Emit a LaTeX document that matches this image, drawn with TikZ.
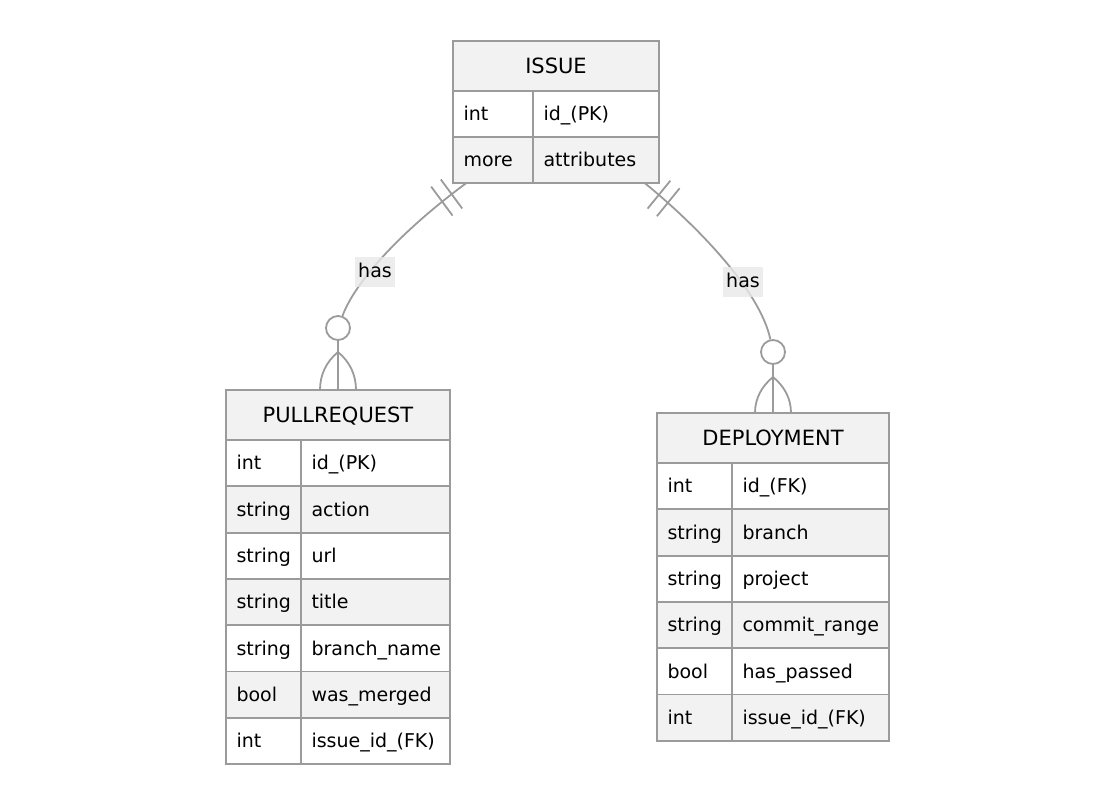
\documentclass[tikz,border=0pt]{standalone}
\usepackage{fontspec}
\usetikzlibrary{calc}
\newfontfamily\erfont{DejaVu Sans}
\newcommand{\cellfont}{\erfont\fontsize{19}{23}\selectfont}
\newcommand{\titlefont}{\erfont\fontsize{21}{25}\selectfont}
\definecolor{linec}{HTML}{9B9B9B}
\definecolor{rowc}{HTML}{F2F2F2}
\definecolor{labc}{HTML}{E8E8E8}
\tikzset{
  ent/.style={draw=linec, line width=1.8pt, anchor=north west, inner sep=0pt, outer sep=0pt},
  enttitle/.style={ent, fill=rowc, minimum height=50pt, font=\titlefont, text height=19pt, text depth=4pt},
  cell/.style={ent, minimum height=46.3pt, inner xsep=10.5pt, align=left, font=\cellfont, text height=17.5pt, text depth=4pt},
  even/.style={fill=rowc},
  rel/.style={draw=linec, line width=1.8pt},
  zero/.style={circle, draw=linec, line width=1.8pt, fill=white, minimum size=24pt, inner sep=0pt},
  rellabel/.style={fill=labc, fill opacity=0.8, text opacity=1, font=\cellfont, inner xsep=3pt, minimum height=30pt, text height=15pt, text depth=4pt}
}

\begin{document}
\begin{tikzpicture}[x=1pt,y=-1pt]

\useasboundingbox (0,0) rectangle (1116,806);

% ISSUE
\node[enttitle, minimum width=206pt] (issue) at (453,41) {ISSUE};
\node[cell, text width=59pt] (is1a) at (453,91) {int};
\node[cell, text width=105pt] (is1b) at (533,91) {id\_(PK)};
\node[cell, even, text width=59pt] (is2a) at (453,137) {more};
\node[cell, even, text width=105pt] (is2b) at (533,137) {attributes};

% PULLREQUEST
\node[enttitle, minimum width=224pt] (pr) at (226,390) {PULLREQUEST};
\node[cell, text width=54pt] (pr1a) at (226,440) {int};
\node[cell, text width=128pt] (pr1b) at (301,440) {id\_(PK)};
\node[cell, even, text width=54pt] (pr2a) at (226,486.3) {string};
\node[cell, even, text width=128pt] (pr2b) at (301,486.3) {action};
\node[cell, text width=54pt] (pr3a) at (226,532.6) {string};
\node[cell, text width=128pt] (pr3b) at (301,532.6) {url};
\node[cell, even, text width=54pt] (pr4a) at (226,578.9) {string};
\node[cell, even, text width=128pt] (pr4b) at (301,578.9) {title};
\node[cell, text width=54pt] (pr5a) at (226,625.2) {string};
\node[cell, text width=128pt] (pr5b) at (301,625.2) {branch\_name};
\node[cell, even, text width=54pt] (pr6a) at (226,671.5) {bool};
\node[cell, even, text width=128pt] (pr6b) at (301,671.5) {was\_merged};
\node[cell, text width=54pt] (pr7a) at (226,717.8) {int};
\node[cell, text width=128pt] (pr7b) at (301,717.8) {issue\_id\_(FK)};

% DEPLOYMENT
\node[enttitle, minimum width=232pt] (dep) at (657,413) {DEPLOYMENT};
\node[cell, text width=54pt] (dp1a) at (657,463) {int};
\node[cell, text width=136pt] (dp1b) at (732,463) {id\_(FK)};
\node[cell, even, text width=54pt] (dp2a) at (657,509.3) {string};
\node[cell, even, text width=136pt] (dp2b) at (732,509.3) {branch};
\node[cell, text width=54pt] (dp3a) at (657,555.6) {string};
\node[cell, text width=136pt] (dp3b) at (732,555.6) {project};
\node[cell, even, text width=54pt] (dp4a) at (657,601.9) {string};
\node[cell, even, text width=136pt] (dp4b) at (732,601.9) {commit\_range};
\node[cell, text width=54pt] (dp5a) at (657,648.2) {bool};
\node[cell, text width=136pt] (dp5b) at (732,648.2) {has\_passed};
\node[cell, even, text width=54pt] (dp6a) at (657,694.5) {int};
\node[cell, even, text width=136pt] (dp6b) at (732,694.5) {issue\_id\_(FK)};

% ISSUE -- PULLREQUEST
\coordinate (il) at ($(is2a.south west)+(13,0)$);
\node[zero] (zl) at (338,328) {};
\coordinate (fl) at (338,352);
\draw[rel] (il) .. controls (400,232) and (355,282) .. (zl);
\coordinate (bl1) at ($(il)!18pt!(400,232)$);
\coordinate (bl2) at ($(il)!30pt!(400,232)$);
\draw[rel] ($(bl1)!18pt!90:(il)$) -- ($(bl1)!18pt!-90:(il)$);
\draw[rel] ($(bl2)!18pt!90:(il)$) -- ($(bl2)!18pt!-90:(il)$);
\draw[rel] (zl) -- (pr.north);
\draw[rel] (fl) .. controls (326,362) and (320,375) .. ($(pr.north)+(-18,0)$);
\draw[rel] (fl) .. controls (350,362) and (356,375) .. ($(pr.north)+(18,0)$);
\node[rellabel] (hl) at (375,272) {has};

% ISSUE -- DEPLOYMENT
\coordinate (ir) at ($(is2b.south east)+(-14,0)$);
\node[zero] (zr) at (773,352) {};
\coordinate (fr) at (773,377);
\draw[rel] (ir) .. controls (695,224) and (760,290) .. (zr);
\coordinate (br1) at ($(ir)!18pt!(695,224)$);
\coordinate (br2) at ($(ir)!30pt!(695,224)$);
\draw[rel] ($(br1)!18pt!90:(ir)$) -- ($(br1)!18pt!-90:(ir)$);
\draw[rel] ($(br2)!18pt!90:(ir)$) -- ($(br2)!18pt!-90:(ir)$);
\draw[rel] (zr) -- (dep.north);
\draw[rel] (fr) .. controls (762,386) and (755,398) .. ($(dep.north)+(-18,0)$);
\draw[rel] (fr) .. controls (784,386) and (791,398) .. ($(dep.north)+(18,0)$);
\node[rellabel] (hr) at (743,282) {has};

\end{tikzpicture}
\end{document}
